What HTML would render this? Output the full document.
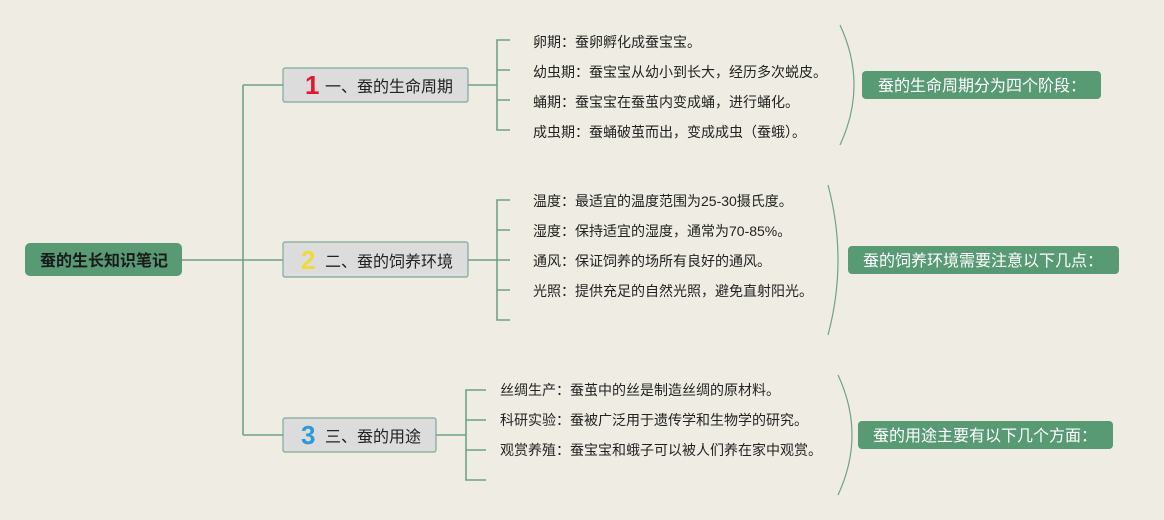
<!DOCTYPE html>
<html><head><meta charset="utf-8"><style>
html,body{margin:0;padding:0;background:#efede3;}
svg{display:block}
text{font-family:"Liberation Sans","Noto Sans CJK SC",sans-serif;}
</style></head><body>
<svg width="1164" height="520" viewBox="0 0 1164 520" xmlns="http://www.w3.org/2000/svg">
<rect width="1164" height="520" fill="#efede3"/>
<g stroke="#6ea28a" stroke-width="1.6" fill="none">
<path d="M182 260 H283"/>
<path d="M243 85 V435"/>
<path d="M243 85 H283"/>
<path d="M243 435 H283"/>
<path d="M468 85 H497"/>
<path d="M510 40 H497 V130 H510 M497 70 H510 M497 100 H510"/>
<path d="M468 260 H497"/>
<path d="M510 200 H497 V320 H510 M497 230 H510 M497 260 H510 M497 290 H510"/>
<path d="M436 435 H466"/>
<path d="M486 390 H466 V480 H486 M466 420 H486 M466 450 H486"/>
</g>
<g stroke="#6ea28a" stroke-width="1.2" fill="none">
<path d="M840 25 Q868 85 840 145"/>
<path d="M828 185 Q848 260 828 335"/>
<path d="M838 375 Q866 435 838 495"/>
</g>
<rect x="25" y="243" width="157" height="33" rx="5" fill="#579a74"/>
<text x="104" y="266" font-size="16" font-weight="bold" text-anchor="middle" fill="#1a1a1a">蚕的生长知识笔记</text>
<g stroke="#7fa898" stroke-width="1.2" fill="#dcdcdc">
<rect x="283" y="68" width="185" height="34" rx="2"/>
<rect x="283" y="242" width="185" height="35" rx="2"/>
<rect x="283" y="418" width="153" height="34" rx="2"/>
</g>
<g font-size="16" fill="#222">
<text x="305" y="94" font-size="26" font-weight="bold" fill="#e0182c">1</text>
<text x="325" y="92">一、蚕的生命周期</text>
<text x="301" y="269" font-size="26" font-weight="bold" fill="#f2d838">2</text>
<text x="325" y="267">二、蚕的饲养环境</text>
<text x="301" y="444" font-size="26" font-weight="bold" fill="#2a9ad8">3</text>
<text x="325" y="442">三、蚕的用途</text>
</g>
<g font-size="14" fill="#222">
<text x="533" y="47">卵期：蚕卵孵化成蚕宝宝。</text>
<text x="533" y="77">幼虫期：蚕宝宝从幼小到长大，经历多次蜕皮。</text>
<text x="533" y="107">蛹期：蚕宝宝在蚕茧内变成蛹，进行蛹化。</text>
<text x="533" y="137">成虫期：蚕蛹破茧而出，变成成虫（蚕蛾）。</text>
<text x="533" y="206">温度：最适宜的温度范围为25-30摄氏度。</text>
<text x="533" y="236">湿度：保持适宜的湿度，通常为70-85%。</text>
<text x="533" y="266">通风：保证饲养的场所有良好的通风。</text>
<text x="533" y="296">光照：提供充足的自然光照，避免直射阳光。</text>
<text x="500" y="395">丝绸生产：蚕茧中的丝是制造丝绸的原材料。</text>
<text x="500" y="425">科研实验：蚕被广泛用于遗传学和生物学的研究。</text>
<text x="500" y="455">观赏养殖：蚕宝宝和蛾子可以被人们养在家中观赏。</text>
</g>
<g fill="#579a74">
<rect x="862" y="71" width="239" height="28" rx="4"/>
<rect x="848" y="246" width="271" height="28" rx="4"/>
<rect x="858" y="421" width="255" height="28" rx="4"/>
</g>
<g font-size="16" fill="#fff">
<text x="878" y="91">蚕的生命周期分为四个阶段：</text>
<text x="863" y="266">蚕的饲养环境需要注意以下几点：</text>
<text x="873" y="441">蚕的用途主要有以下几个方面：</text>
</g>
</svg>
</body></html>
